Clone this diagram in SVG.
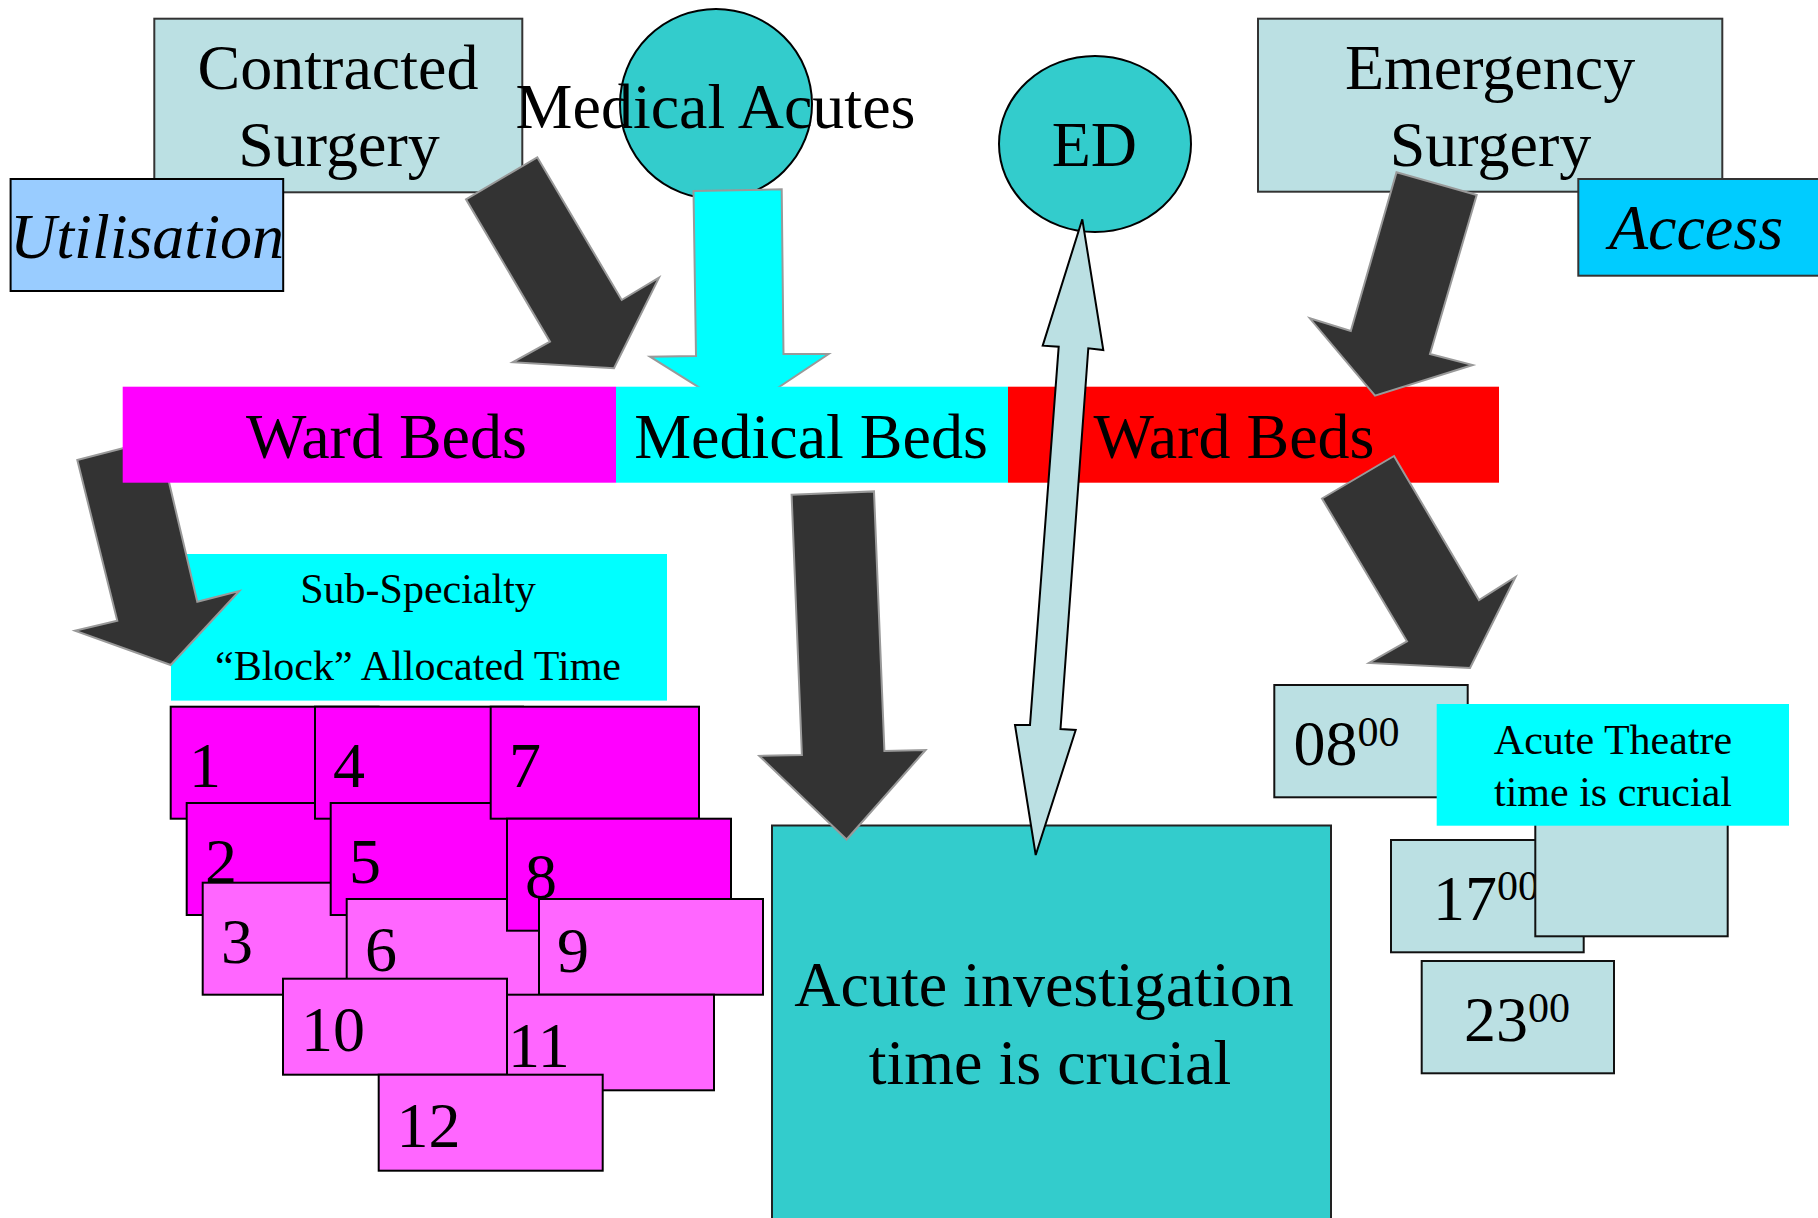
<svg xmlns="http://www.w3.org/2000/svg" width="1818" height="1218" viewBox="0 0 1818 1218">
  <style>
    text { font-family: "Liberation Serif", "Times New Roman", serif; fill: #000; }
    .big { font-size: 64px; }
    .small { font-size: 42px; }
    .it { font-style: italic; }
    .mid { text-anchor: middle; }
    .pale { fill: #BBE0E3; stroke: #333; stroke-width: 2; }
    .teal { fill: #33CCCC; stroke: #000; stroke-width: 2; }
    .arrow { fill: #333333; stroke: #999999; stroke-width: 2; stroke-linejoin: miter; }
    .carrow { fill: #00FFFF; stroke: #999999; stroke-width: 2; }
    .darrow { fill: #BBE0E3; stroke: #000; stroke-width: 2; }
    .mag { fill: #FF00FF; stroke: #000; stroke-width: 2; }
    .lmag { fill: #FF66FF; stroke: #000; stroke-width: 2; }
    .tbox { fill: #BBE0E3; stroke: #111; stroke-width: 2; }
  </style>

  <!-- top row sources -->
  <g id="contracted-surgery">
    <rect class="pale" x="154.3" y="18.7" width="368" height="173.6"/>
    <text class="big mid" x="338" y="89">Contracted</text>
    <text class="big mid" x="339" y="166">Surgery</text>
  </g>
  <g id="utilisation">
    <rect x="10.6" y="179" width="272.6" height="112" fill="#99CCFF" stroke="#000" stroke-width="2"/>
    <text class="big it mid" x="147" y="258">Utilisation</text>
  </g>
  <g id="medical-acutes">
    <ellipse class="teal" cx="716" cy="104" rx="96" ry="95"/>
    <text class="big mid" x="715.5" y="128">Medical Acutes</text>
  </g>
  <g id="emergency-surgery">
    <rect class="pale" x="1258" y="18.7" width="464.3" height="173"/>
    <text class="big mid" x="1490" y="89">Emergency</text>
    <text class="big mid" x="1490.5" y="166">Surgery</text>
  </g>
  <g id="access">
    <rect x="1578.3" y="179" width="250" height="96.7" fill="#00CCFF" stroke="#333" stroke-width="2"/>
    <text class="big it mid" x="1696" y="249.3">Access</text>
  </g>
  <g id="ed">
    <ellipse class="teal" cx="1095" cy="144" rx="96" ry="88"/>
    <text class="big mid" x="1094.4" y="166">ED</text>
  </g>
  <g id="sub-specialty">
    <rect x="171" y="554" width="496" height="146.6" fill="#00FFFF"/>
    <text class="small mid" x="418" y="603">Sub-Specialty</text>
    <text class="small mid" x="418" y="680">“Block” Allocated Time</text>
  </g>

  <!-- connectors drawn beneath the bed bar -->
  <g id="connectors-under">
    <polygon class="carrow" points="693.5,191 781.7,189.3 783.5,354 828.6,354 740,413 650,356.7 696,356"/>
    <polygon class="arrow" points="466,199.3 537.3,157.3 621.7,300 659,277.7 614,368.3 512.7,362.3 550,341.7"/>
    <polygon class="arrow" points="77.3,460 158.8,439 197.3,601.7 239.3,591 170.7,665 75,630.7 117.3,620.7"/>
  </g>

  <!-- bed bar -->
  <g id="ward-beds-left">
    <rect x="122.7" y="386.7" width="493.3" height="96" fill="#FF00FF"/>
    <text class="big mid" x="386.4" y="457.7">Ward Beds</text>
  </g>
  <g id="medical-beds">
    <rect x="616" y="386.7" width="392" height="96" fill="#00FFFF"/>
    <text class="big mid" x="811" y="457.7">Medical Beds</text>
  </g>
  <g id="ward-beds-right">
    <rect x="1008" y="386.7" width="491" height="96" fill="#FF0000"/>
    <text class="big mid" x="1234" y="457.7">Ward Beds</text>
  </g>

  <!-- theatre sessions -->
  <g id="session-1"><rect class="mag" x="170.7" y="706.7" width="208" height="112"/><text class="big" x="189" y="787">1</text></g>
  <g id="session-2"><rect class="mag" x="186.7" y="803" width="208" height="112"/><text class="big" x="205" y="882.7">2</text></g>
  <g id="session-3"><rect class="lmag" x="202.7" y="882.7" width="224" height="112"/><text class="big" x="221" y="963">3</text></g>
  <g id="session-4"><rect class="mag" x="315" y="706.7" width="208" height="112"/><text class="big" x="333" y="787">4</text></g>
  <g id="session-5"><rect class="mag" x="330.7" y="803" width="208" height="112"/><text class="big" x="349" y="882.7">5</text></g>
  <g id="session-6"><rect class="lmag" x="346.7" y="899" width="224" height="96"/><text class="big" x="365" y="971">6</text></g>
  <g id="session-7"><rect class="mag" x="490.7" y="706.7" width="208.3" height="112"/><text class="big" x="509" y="787">7</text></g>
  <g id="session-8"><rect class="mag" x="507" y="818.7" width="224" height="112"/><text class="big" x="525" y="898.3">8</text></g>
  <g id="session-9"><rect class="lmag" x="539" y="899" width="224" height="95.7"/><text class="big" x="557" y="971.5">9</text></g>
  <g id="session-11"><rect class="lmag" x="490" y="994.7" width="224" height="95.6"/><text class="big" x="508" y="1066.7">11</text></g>
  <g id="session-10"><rect class="lmag" x="283" y="978.7" width="224" height="96"/><text class="big" x="301" y="1051">10</text></g>
  <g id="session-12"><rect class="lmag" x="378.7" y="1074.7" width="224" height="96"/><text class="big" x="396.5" y="1146.7">12</text></g>

  <g id="acute-investigation">
    <rect x="772" y="825.5" width="559" height="400" fill="#33CCCC" stroke="#222" stroke-width="2"/>
    <text class="big mid" x="1044" y="1006.3">Acute investigation</text>
    <text class="big mid" x="1050" y="1083.6">time is crucial</text>
  </g>

  <!-- time slots -->
  <g id="slot-0800">
    <rect class="tbox" x="1274.3" y="685" width="193.4" height="112.3"/>
    <text class="big" x="1293.5" y="765">08<tspan class="small" dy="-19">00</tspan></text>
  </g>
  <g id="slot-1700">
    <rect class="tbox" x="1391" y="840" width="192.7" height="112.3"/>
    <text class="big" x="1433" y="920">17<tspan class="small" dy="-20">00</tspan></text>
  </g>
  <g id="slot-empty">
    <rect class="tbox" x="1535.3" y="824" width="192.4" height="112.3"/>
  </g>
  <g id="acute-theatre">
    <rect x="1436.7" y="704" width="352.3" height="121.7" fill="#00FFFF"/>
    <text class="small mid" x="1613" y="754">Acute Theatre</text>
    <text class="small mid" x="1613" y="806">time is crucial</text>
  </g>
  <g id="slot-2300">
    <rect class="tbox" x="1421.7" y="961" width="192.3" height="112.3"/>
    <text class="big" x="1464" y="1041">23<tspan class="small" dy="-19.3">00</tspan></text>
  </g>

  <!-- connectors drawn above -->
  <g id="connectors">
    <polygon class="arrow" points="1396.5,172.3 1476.7,195 1430,354 1472.7,365 1375,395.7 1309.8,318.3 1350.8,331"/>
    <polygon class="arrow" points="1394,456 1479,600 1515.5,577 1470,668 1369,663 1407,641.3 1322,498.5"/>
    <polygon class="arrow" points="791.6,494.8 874,491.4 884.4,751 925.6,750 846.6,839.5 759.3,755.9 801.9,754.9"/>
    <polygon class="darrow" points="1082.3,219.3 1103.3,350 1088.3,348.3 1060.5,729 1075.7,730 1035.7,855 1015,725 1030,725 1058.7,346.7 1042.7,345.7"/>
  </g>
</svg>
